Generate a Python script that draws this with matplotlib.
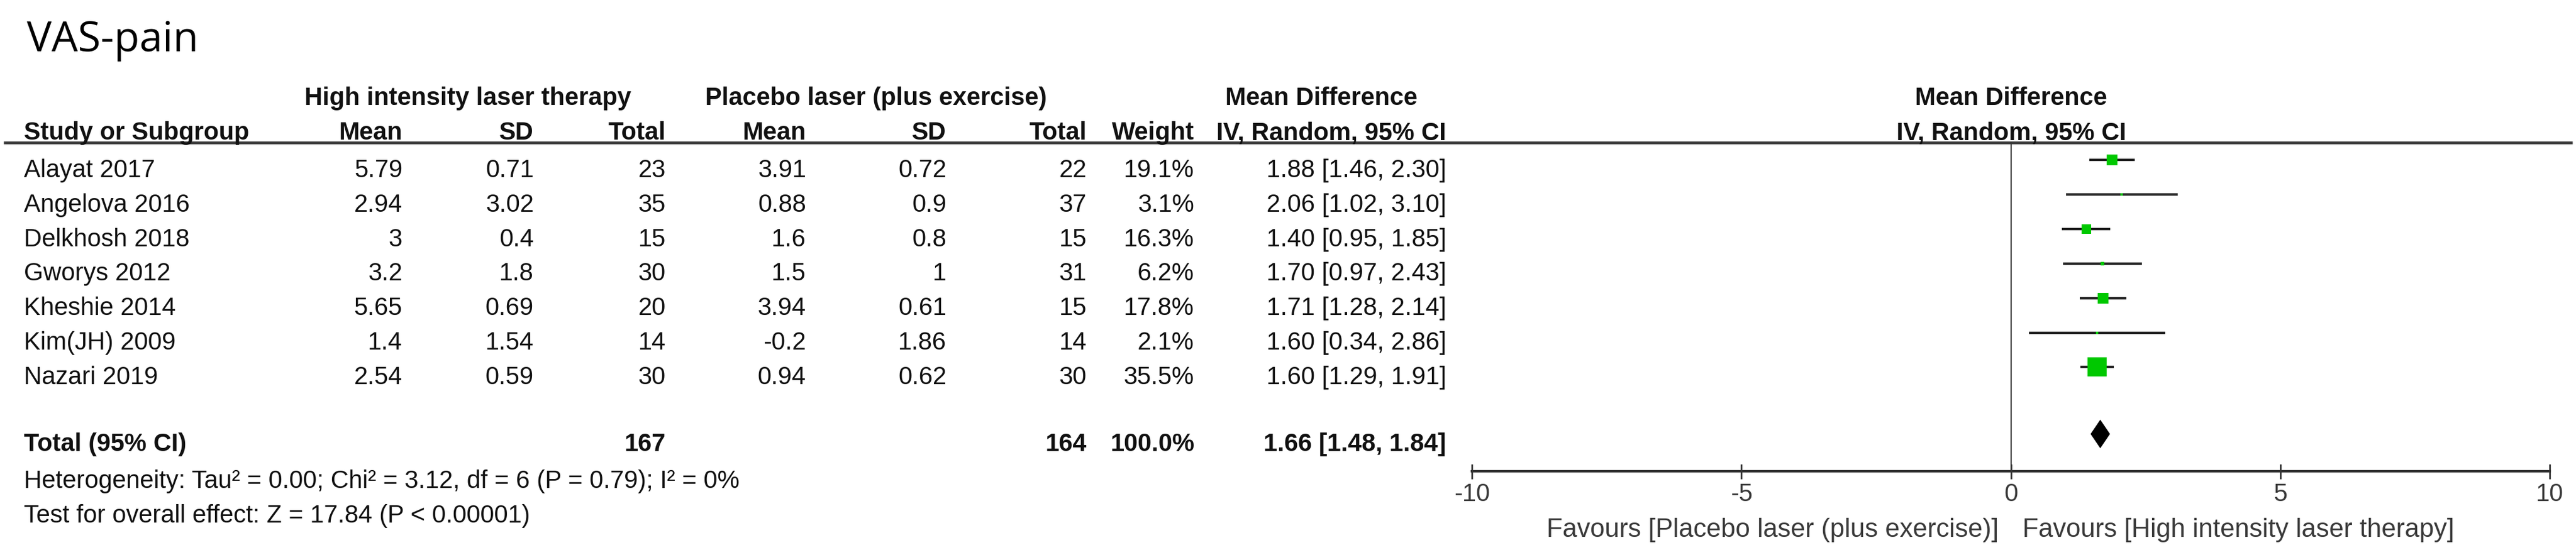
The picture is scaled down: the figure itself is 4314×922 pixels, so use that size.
import matplotlib
matplotlib.use("Agg")
import matplotlib.pyplot as plt
from matplotlib.patches import Polygon

# ---------------- data ----------------
studies = ["Alayat 2017", "Angelova 2016", "Delkhosh 2018", "Gworys 2012",
           "Kheshie 2014", "Kim(JH) 2009", "Nazari 2019"]
hilt_mean = [5.79, 2.94, 3, 3.2, 5.65, 1.4, 2.54]
hilt_sd = [0.71, 3.02, 0.4, 1.8, 0.69, 1.54, 0.59]
hilt_n = [23, 35, 15, 30, 20, 14, 30]
plc_mean = [3.91, 0.88, 1.6, 1.5, 3.94, -0.2, 0.94]
plc_sd = [0.72, 0.9, 0.8, 1, 0.61, 1.86, 0.62]
plc_n = [22, 37, 15, 31, 15, 14, 30]
weights = [19.1, 3.1, 16.3, 6.2, 17.8, 2.1, 35.5]
md = [1.88, 2.06, 1.40, 1.70, 1.71, 1.60, 1.60]
ci_lo = [1.46, 1.02, 0.95, 0.97, 1.28, 0.34, 1.29]
ci_hi = [2.30, 3.10, 1.85, 2.43, 2.14, 2.86, 1.91]
total_hilt_n = 167
total_plc_n = 164
total_weight = 100.0
total_md = 1.66
total_lo = 1.48
total_hi = 1.84
x_ticks = [-10, -5, 0, 5, 10]
x_tick_labels = ["-10", "-5", "0", "5", "10"]
group1 = "High intensity laser therapy"
group2 = "Placebo laser (plus exercise)"
heterogeneity = "Heterogeneity: Tau\u00b2 = 0.00; Chi\u00b2 = 3.12, df = 6 (P = 0.79); I\u00b2 = 0%"
overall = "Test for overall effect: Z = 17.84 (P < 0.00001)"
fav_left = "Favours [Placebo laser (plus exercise)]"
fav_right = "Favours [High intensity laser therapy]"

# ---------------- layout (pixels) ----------------
W, H = 4314, 922
DPI = 100
FS = 30
FONT = "Liberation Sans"
TXT = "#111111"
GREY = "#3a3a3a"

fig = plt.figure(figsize=(W / DPI, H / DPI), dpi=DPI)
fig.patch.set_facecolor("white")
ax = fig.add_axes([0, 0, 1, 1])
ax.set_xlim(0, W)
ax.set_ylim(H, 0)
ax.axis("off")

# forest axes: x -10..10 spans px 2465..4270, y spans header line (238) to axis (790)
fx0, fx1 = 2465, 4270
fy_top, fy_bot = 238, 790
fax = fig.add_axes([fx0 / W, 1 - fy_bot / H, (fx1 - fx0) / W, (fy_bot - fy_top) / H])
fax.set_xlim(-10, 10)
fax.set_ylim(fy_bot, fy_top)
fax.patch.set_alpha(0)
for s in ["left", "right", "top"]:
    fax.spines[s].set_visible(False)
fax.spines["bottom"].set_linewidth(3.0)
fax.spines["bottom"].set_color("#333333")
fax.set_yticks([])
fax.set_xticks(x_ticks)
fax.set_xticklabels(x_tick_labels)
fax.tick_params(axis="x", direction="inout", length=18, width=2.0, color="#333333",
                labelsize=FS, labelcolor=GREY, pad=5)
for lab in fax.get_xticklabels():
    lab.set_fontfamily(FONT)
fax.axvline(0, color="#333333", lw=1.5, zorder=1)

# title
ax.text(45, 86, "VAS-pain", fontsize=50, family="Open Sans", color="black", va="baseline", ha="left")

# header rows
hb1, hb2 = 176, 234
bold = dict(fontsize=FS, family=FONT, fontweight="bold", color=TXT, va="baseline")
ax.text(783, hb1, group1, ha="center", **bold)
ax.text(1467, hb1, group2, ha="center", **bold)
ax.text(2213, hb1, "Mean Difference", ha="center", **bold)
ax.text(3368, hb1, "Mean Difference", ha="center", **bold)

col_right = [674, 894, 1115, 1350, 1585, 1820, 2000, 2422]
col_names = ["Mean", "SD", "Total", "Mean", "SD", "Total", "Weight", "IV, Random, 95% CI"]
ax.text(40, hb2, "Study or Subgroup", ha="left", **bold)
for xr, nm in zip(col_right, col_names):
    ax.text(xr, hb2, nm, ha="right", **bold)
ax.text(3368, hb2, "IV, Random, 95% CI", ha="center", **bold)

# header rule
ax.plot([6, 4308], [239, 239], color="#3a3a3a", lw=3.4, solid_capstyle="butt")

# study rows
norm = dict(fontsize=FS, family=FONT, color=TXT, va="baseline")
row_base = [297 + 57.8 * i for i in range(len(studies))]
for i, st in enumerate(studies):
    yb = row_base[i]
    ax.text(40, yb, st, ha="left", **norm)
    vals = [f"{hilt_mean[i]:g}", f"{hilt_sd[i]:g}", f"{hilt_n[i]}",
            f"{plc_mean[i]:g}", f"{plc_sd[i]:g}", f"{plc_n[i]}",
            f"{weights[i]:.1f}%", f"{md[i]:.2f} [{ci_lo[i]:.2f}, {ci_hi[i]:.2f}]"]
    for xr, v in zip(col_right, vals):
        ax.text(xr, yb, v, ha="right", **norm)
    ym = yb - 28.5
    fax.plot([ci_lo[i], ci_hi[i]], [ym, ym], color="#222222", lw=2.9,
             solid_capstyle="butt", zorder=3, clip_on=False)
    side_px = 0.88 * weights[i] + 1.5
    fax.plot([md[i]], [ym], marker="s", ms=side_px * 72 / DPI, color="#00c800",
             mec="#00c800", mew=0, zorder=4, clip_on=False)

# total row
tb = 756
ax.text(40, tb, "Total (95% CI)", ha="left", **bold)
ax.text(col_right[2], tb, f"{total_hilt_n}", ha="right", **bold)
ax.text(col_right[5], tb, f"{total_plc_n}", ha="right", **bold)
ax.text(col_right[6], tb, f"{total_weight:.1f}%", ha="right", **bold)
ax.text(col_right[7], tb, f"{total_md:.2f} [{total_lo:.2f}, {total_hi:.2f}]", ha="right", **bold)
yd = tb - 28.5
diamond = Polygon([(total_lo, yd), (total_md, yd - 24), (total_hi, yd), (total_md, yd + 24)],
                  closed=True, facecolor="black", edgecolor="black", lw=0, zorder=4, clip_on=False)
fax.add_patch(diamond)

ax.text(40, 818, heterogeneity, ha="left", **norm)
ax.text(40, 876, overall, ha="left", **norm)

# favours labels
ax.text(3347, 900, fav_left, ha="right", fontsize=31.5, family=FONT, color=GREY, va="baseline")
ax.text(3387, 900, fav_right, ha="left", fontsize=31.5, family=FONT, color=GREY, va="baseline")

fig.savefig("out.png", dpi=DPI, facecolor="white")
